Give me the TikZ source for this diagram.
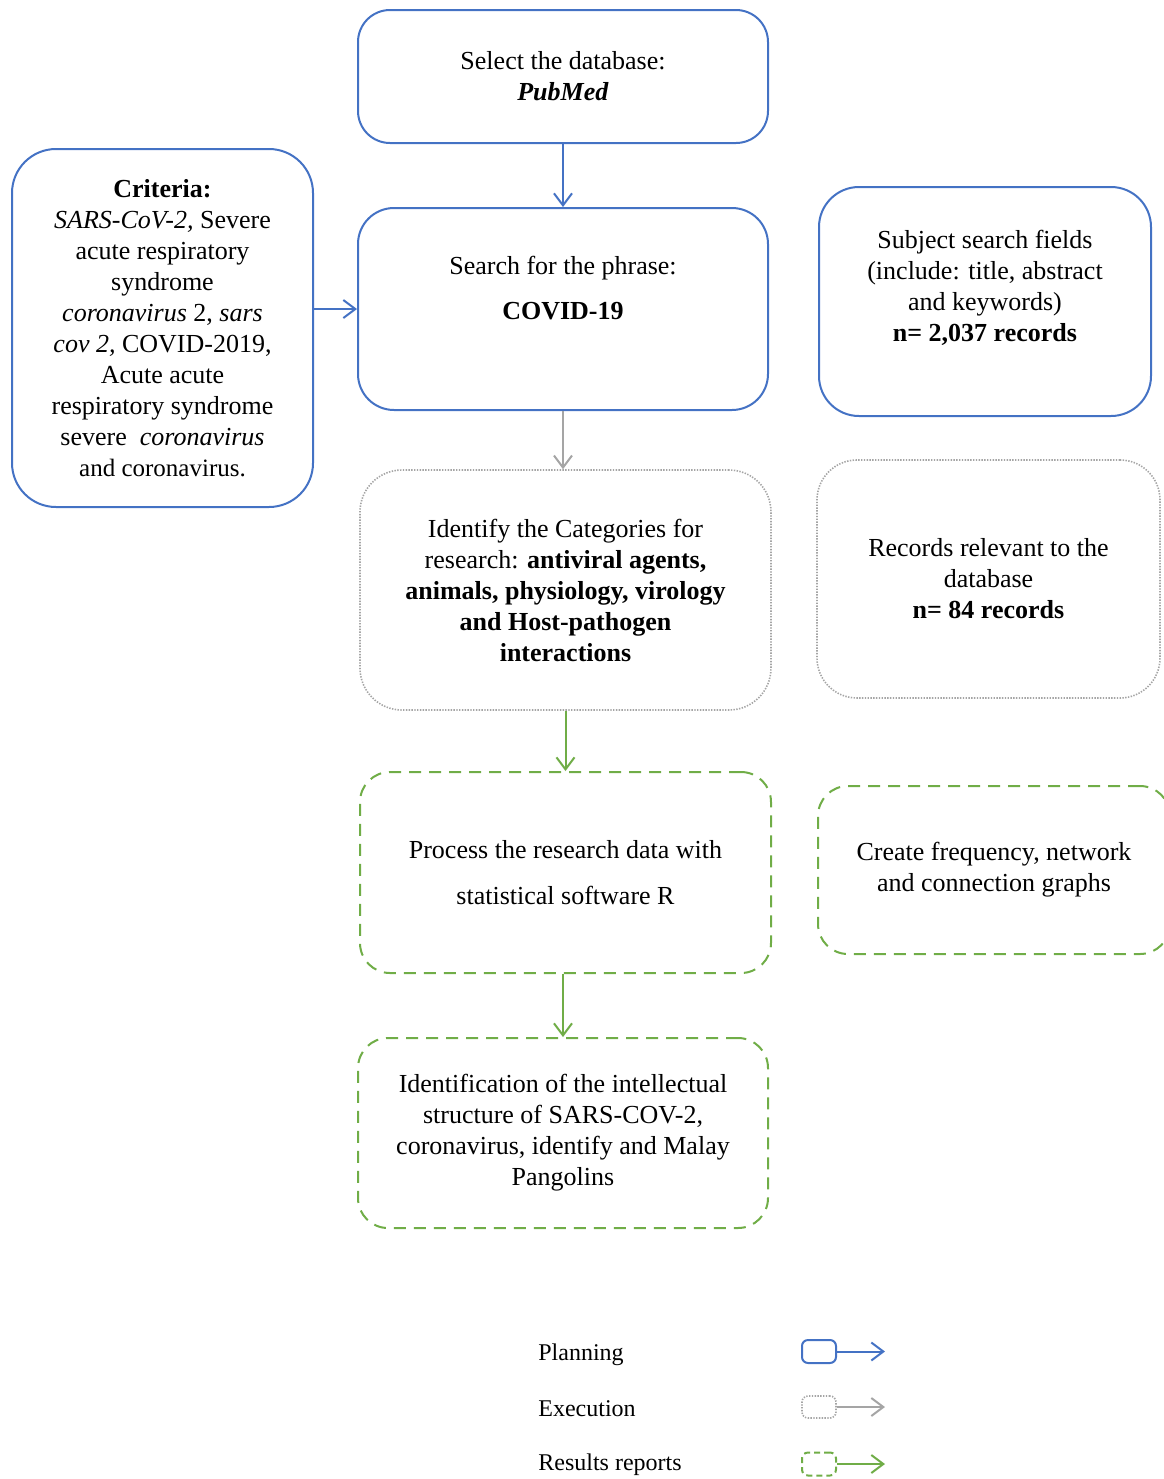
\documentclass[tikz,border=0pt]{standalone}
\usepackage{fontspec}
\setmainfont{Liberation Serif}
\usepackage{xcolor}
\usetikzlibrary{arrows.meta,positioning}
\definecolor{planblue}{HTML}{4472C4}
\definecolor{execgray}{HTML}{A5A5A5}
\definecolor{resgreen}{HTML}{70AD47}

\begin{document}
\begin{tikzpicture}[x=0.5pt,y=-0.5pt,>={Straight Barb[length=6pt,width=9pt]}]
\tikzstyle{every node} = [font=\fontsize{13}{15.5}\selectfont, align=center, inner sep=0pt]
\tikzstyle{plan} = [draw=planblue, line width=1pt, rounded corners=16pt]
\tikzstyle{exec} = [draw=execgray, line width=0.8pt, dash pattern=on 0.7pt off 0.7pt, rounded corners=21pt]
\tikzstyle{res} = [draw=resgreen, line width=1pt, dash pattern=on 6pt off 4pt, rounded corners=15pt]
\tikzstyle{planline} = [planblue, line width=1pt, ->]
\tikzstyle{execline} = [execgray, line width=1pt, ->]
\tikzstyle{resline} = [resgreen, line width=1pt, ->]
\tikzstyle{legend} = [anchor=west, font=\fontsize{12}{14}\selectfont]
\useasboundingbox (0,0) rectangle (1163,1479);

% planning
\node[plan, minimum width=205pt, minimum height=66.5pt] (db) at (563,76.5)
	{Select the database:\\\textbf{\textit{PubMed}}};
\node[plan, rounded corners=22pt, minimum width=150.5pt, minimum height=179pt] (crit) at (162.5,328)
	{\textbf{Criteria:}\\
	\textit{SARS-CoV-2,} Severe\\
	acute respiratory\\
	syndrome\\
	\textit{coronavirus} 2, \textit{sars}\\
	\textit{cov 2,} COVID-2019,\\
	Acute acute\\
	respiratory syndrome\\
	severe\ \ \textit{coronavirus}\\
	{\fontsize{12.5}{15}\selectfont and coronavirus.}};
\node[plan, rounded corners=18pt, minimum width=205pt, minimum height=101pt] (search) at (563,309) {}
	edge[planline, <-] (db);
\node (searchtxt) at (563,288) {Search for the phrase:\\[7pt]\textbf{COVID-19}};
\draw[planline] (crit.east |- search.west) -- (search.west);
\node[plan, rounded corners=20pt, minimum width=166pt, minimum height=114.5pt] (subj) at (985,301.5) {};
\node (subjtxt) at (985,288)
	{Subject search fields\\(include: title, abstract\\and keywords)\\\textbf{n= 2,037 records}};

% execution
\node[exec, minimum width=205.5pt, minimum height=120pt] (cat) at (565.5,590)
	{Identify the Categories for\\
	research: \textbf{antiviral agents,}\\
	\textbf{animals, physiology, virology}\\
	\textbf{and Host-pathogen}\\
	\textbf{interactions}};
\draw[execline] (search.south) -- (search.south |- cat.north);
\node[exec, rounded corners=20pt, minimum width=171.5pt, minimum height=119pt] (rel) at (988.5,579)
	{Records relevant to the\\database\\\textbf{n= 84 records}};

% results
\node[res, minimum width=205.5pt, minimum height=100.5pt] (proc) at (565.5,872.5)
	{Process the research data with\\[7.5pt]statistical software R}
	edge[resline, <-] (cat);
\node[res, minimum width=176pt, minimum height=84pt] (graphs) at (994,870)
	{Create frequency, network\\and connection graphs};
\node[res, minimum width=205pt, minimum height=95pt] (intel) at (563,1133)
	{Identification of the intellectual\\
	structure of SARS-COV-2,\\
	coronavirus, identify and Malay\\
	Pangolins};
\draw[resline] (intel.north |- proc.south) -- (intel.north);

% legend
\node[legend] (lplan) at (538,1355) {Planning};
\node[legend] (lexec) at (538,1409) {Execution};
\node[legend] (lres) at (538,1465) {Results reports};
\node[plan, rounded corners=3pt, minimum width=17pt, minimum height=11.5pt] (kplan) at (819,1351.5) {};
\node[exec, rounded corners=3pt, minimum width=17pt, minimum height=11pt] (kexec) at (819,1407) {};
\node[res, dash pattern=on 3pt off 2pt, rounded corners=3pt, minimum width=17pt, minimum height=11.5pt] (kres) at (819,1464) {};
\coordinate (kplanend) at (885,1351.5);
\coordinate (kexecend) at (885,1407);
\coordinate (kresend) at (885,1464);
\draw[planline] (kplan) -- (kplanend);
\draw[execline] (kexec) -- (kexecend);
\draw[resline] (kres) -- (kresend);
\end{tikzpicture}
\end{document}
